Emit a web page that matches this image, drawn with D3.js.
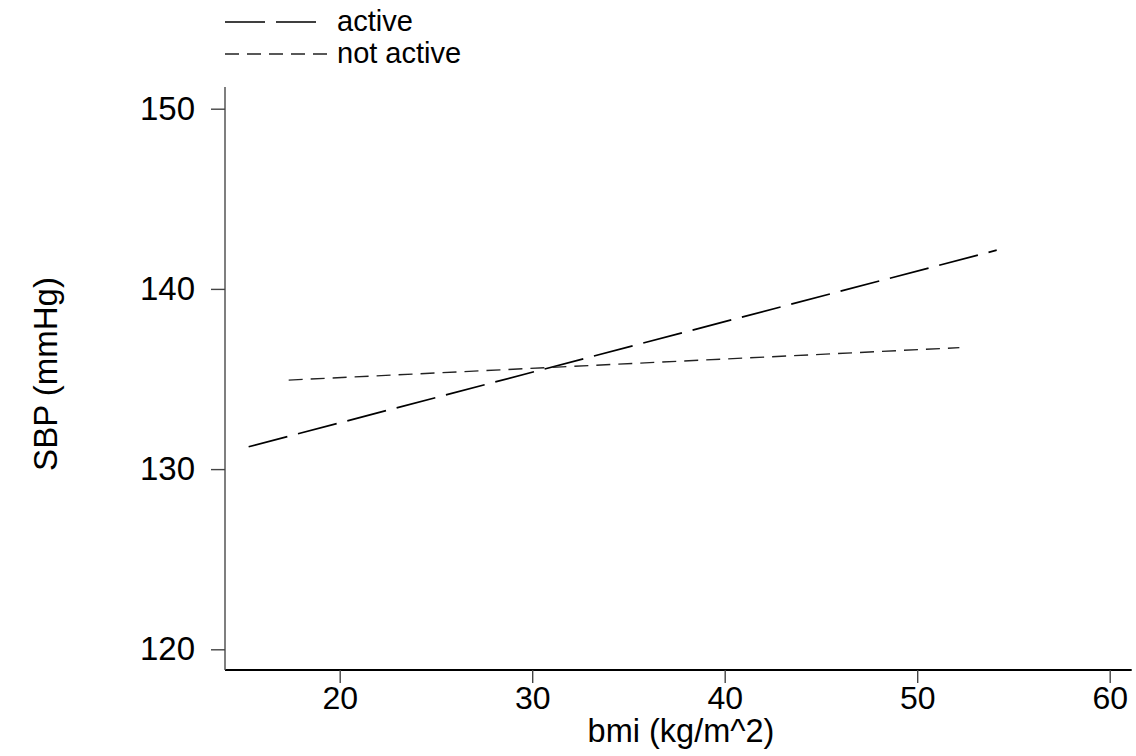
<!DOCTYPE html>
<html>
<head>
<meta charset="utf-8">
<script src="https://cdn.jsdelivr.net/npm/d3@7"></script>
<style>
  html, body { margin: 0; padding: 0; background: #fff; }
  svg { display: block; }
  text { font-family: "Liberation Sans", Arial, Helvetica, sans-serif; fill: #000; }
</style>
</head>
<body>
<svg id="chart" width="1136" height="756"></svg>
<script>
// ---- data ----
const seriesNames = ["active", "not active"];
const activeBmi = [15.27, 54.13];
const activeSbp = [131.24, 142.15];
const notActiveBmi = [17.35, 52.19];
const notActiveSbp = [134.94, 136.74];
const xTicks = [20, 30, 40, 50, 60];
const yTicks = [120, 130, 140, 150];
const xTitle = "bmi (kg/m^2)";
const yTitle = "SBP (mmHg)";

// ---- layout ----
const svg = d3.select("#chart");
const plotLeft = 225, plotRight = 1131.7, plotTop = 87, plotBottom = 670;
const x = d3.scaleLinear().domain([20, 60]).range([339.7, 1109.7]);
const y = d3.scaleLinear().domain([120, 150]).range([649.3, 108.7]);
const FONT = "Liberation Sans, Arial, sans-serif";

// axes
const xAxis = svg.append("g").attr("transform", `translate(0,${plotBottom})`)
  .call(d3.axisBottom(x).tickValues(xTicks).tickSize(13).tickPadding(3).tickSizeOuter(0));
xAxis.select(".domain").attr("d", `M${plotLeft},0H${plotRight}`).attr("stroke", "#000").attr("stroke-width", 2);
xAxis.selectAll(".tick line").attr("stroke", "#444").attr("stroke-width", 1.4);
xAxis.selectAll(".tick text").attr("font-size", 32).attr("font-family", FONT).attr("fill", "#000");

const yAxis = svg.append("g").attr("transform", `translate(${plotLeft},0)`)
  .call(d3.axisLeft(y).tickValues(yTicks).tickSize(14).tickPadding(16).tickSizeOuter(0));
yAxis.select(".domain").attr("d", `M0,${plotTop}V${plotBottom}`).attr("stroke", "#555").attr("stroke-width", 1.5);
yAxis.selectAll(".tick line").attr("stroke", "#444").attr("stroke-width", 1.4);
yAxis.selectAll(".tick text").attr("font-size", 33).attr("font-family", FONT).attr("fill", "#000");

// titles
svg.append("text").attr("x", 681).attr("y", 742)
  .attr("text-anchor", "middle").attr("font-size", 32.5).text(xTitle);
svg.append("text").attr("transform", `translate(57,374) rotate(-90)`)
  .attr("text-anchor", "middle").attr("font-size", 33).text(yTitle);

// lines
const line = d3.line().x(d => x(d[0])).y(d => y(d[1]));
const activePts = activeBmi.map((b, i) => [b, activeSbp[i]]);
const notActivePts = notActiveBmi.map((b, i) => [b, notActiveSbp[i]]);
const styles = [
  { dash: "40,11", width: 1.7, color: "#000" },
  { dash: "14,8", width: 1.4, color: "#222" }
];
[activePts, notActivePts].forEach((pts, i) => {
  svg.append("path").datum(pts).attr("d", line)
    .attr("fill", "none").attr("stroke", styles[i].color)
    .attr("stroke-width", styles[i].width).attr("stroke-dasharray", styles[i].dash);
});

// legend
const legY = [22, 54];
const legEnd = [318, 327];
seriesNames.forEach((name, i) => {
  svg.append("line").attr("x1", 225).attr("x2", legEnd[i]).attr("y1", legY[i]).attr("y2", legY[i])
    .attr("stroke", styles[i].color).attr("stroke-width", styles[i].width)
    .attr("stroke-dasharray", styles[i].dash);
  svg.append("text").attr("x", 337).attr("y", legY[i] + 9).attr("font-size", 29).text(name);
});
</script>
</body>
</html>
